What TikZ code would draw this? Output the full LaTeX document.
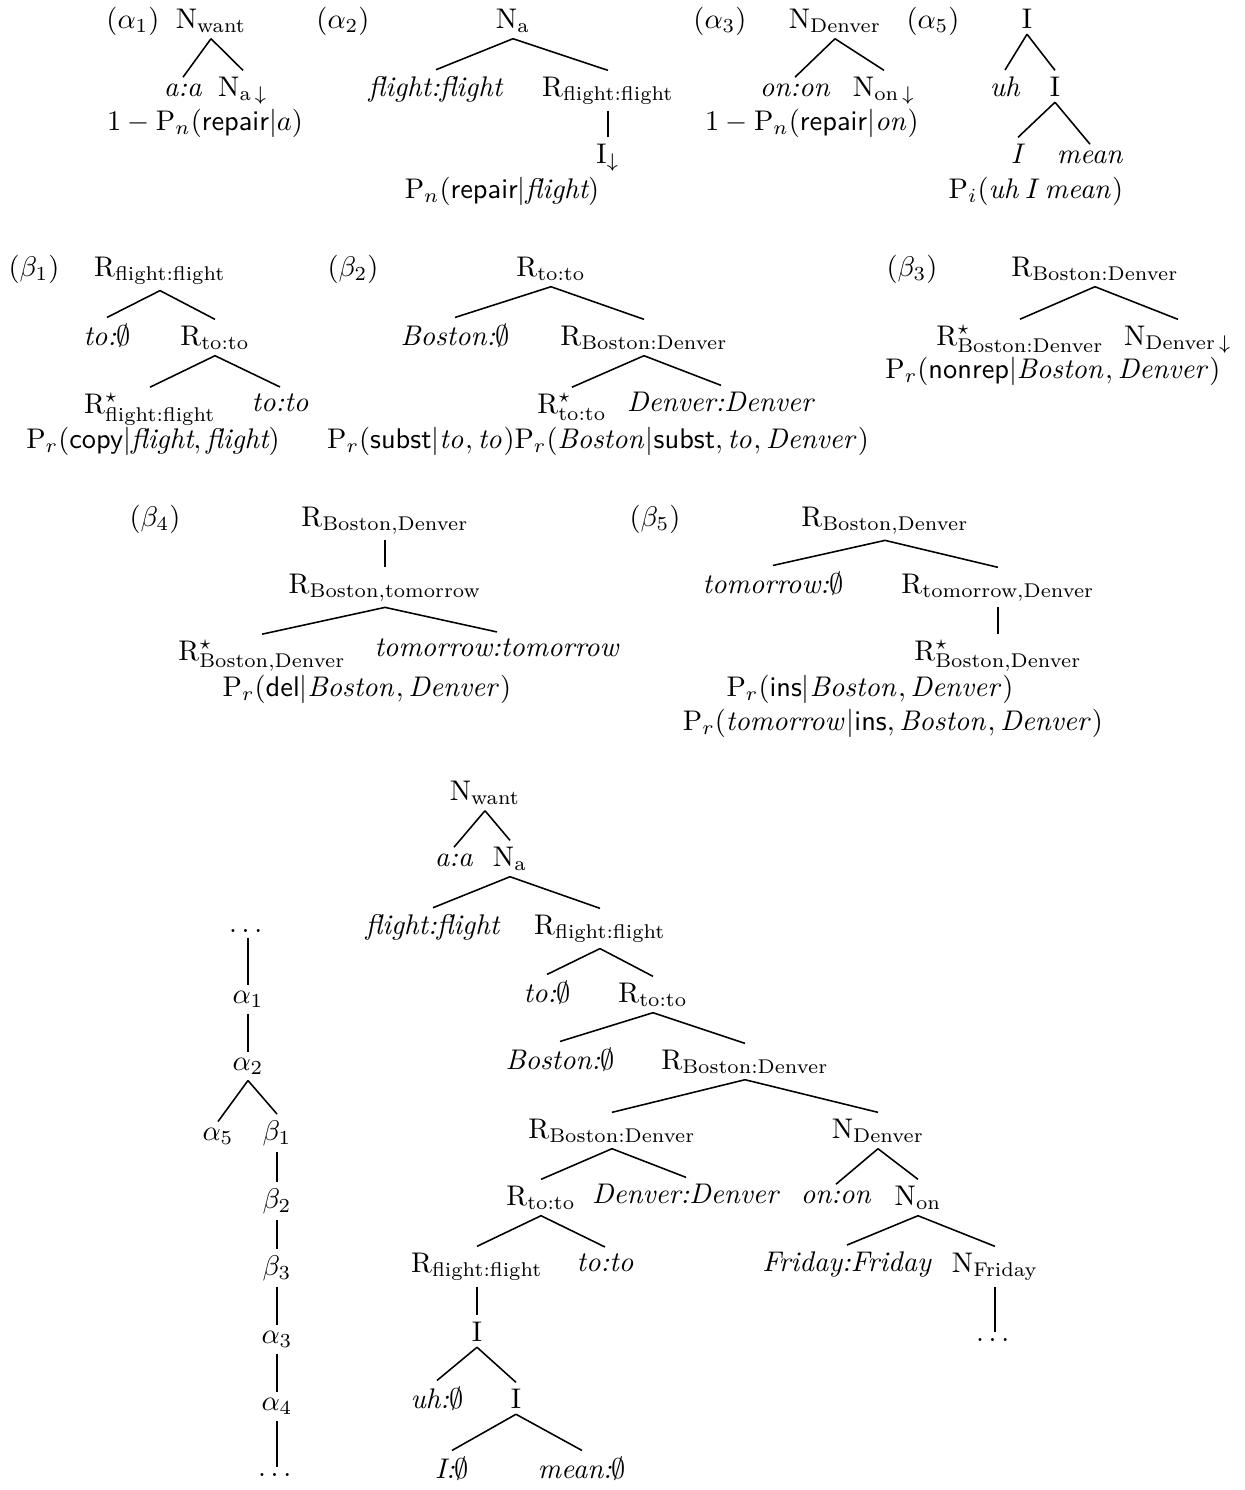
\documentclass[tikz,border=0pt]{standalone}
\usepackage{amsmath}
\usepackage{amssymb}
\usepackage{tikz}

\newcommand{\subR}[1]{\ensuremath{\mathrm{R}_{\text{#1}}}}
\newcommand{\subN}[1]{\ensuremath{\mathrm{N}_{\text{#1}}}}
\newcommand{\starR}[1]{\ensuremath{\mathrm{R}^{\star}_{\text{#1}}}}
\newcommand{\downN}[1]{\ensuremath{\mathrm{N}_{\text{#1}\,\downarrow}}}

\begin{document}
\begin{tikzpicture}[x=0.352pt,y=-0.352pt,
    tn/.style={anchor=base,inner sep=2pt},
    lbl/.style={anchor=base,inner sep=2pt},
    br/.style={line width=0.55pt}]
    \useasboundingbox (0,0) rectangle (1244,1490);

    % alpha_1
    \node[lbl] (la1) at (133,28) {$(\alpha_1)$};
    \node[tn] (a1r) at (211,28) {\subN{want}};
    \node[tn] (a1a) at (183,96) {\textit{a:a}};
    \node[tn] (a1b) at (243,96) {\downN{a}};
    \node[tn] (a1p) at (205,130) {$1-\mathrm{P}_n(\textsf{repair}|a)$};
    \draw[br] (a1r.south) -- (a1a.north) (a1r.south) -- (a1b.north);

    % alpha_2
    \node[lbl] (la2) at (343,28) {$(\alpha_2)$};
    \node[tn] (a2r) at (513,28) {\subN{a}};
    \node[tn] (a2a) at (436,96) {\textit{flight:flight}};
    \node[tn] (a2b) at (608,96) {\subR{flight:flight}};
    \node[tn] (a2c) at (608,163) {$\mathrm{I}_{\downarrow}$};
    \node[tn] (a2p) at (502,198) {$\mathrm{P}_n(\textsf{repair}|\textit{flight})$};
    \draw[br] (a2r.south) -- (a2a.north) (a2r.south) -- (a2b.north);
    \draw[br] (a2b.south) -- (a2c.north);

    % alpha_3
    \node[lbl] (la3) at (720,28) {$(\alpha_3)$};
    \node[tn] (a3r) at (835,28) {\subN{Denver}};
    \node[tn] (a3a) at (795,96) {\textit{on:on}};
    \node[tn] (a3b) at (884,96) {\downN{on}};
    \node[tn] (a3p) at (812,130) {$1-\mathrm{P}_n(\textsf{repair}|\mathit{on})$};
    \draw[br] (a3r.south) -- (a3a.north) (a3r.south) -- (a3b.north);

    % alpha_5
    \node[lbl] (la5) at (933,28) {$(\alpha_5)$};
    \node[tn] (a5r) at (1027,28) {I};
    \node[tn] (a5a) at (1005,96) {\textit{uh}};
    \node[tn] (a5b) at (1055,96) {I};
    \node[tn] (a5c) at (1018,163) {\textit{I}};
    \node[tn] (a5d) at (1090,163) {\textit{mean}};
    \node[tn] (a5p) at (1036,198) {$\mathrm{P}_i(\mathit{uh}\,I\,\mathit{mean})$};
    \draw[br] (a5r.south) -- (a5a.north) (a5r.south) -- (a5b.north);
    \draw[br] (a5b.south) -- (a5c.north) (a5b.south) -- (a5d.north);

    % beta_1
    \node[lbl] (lb1) at (34,276) {$(\beta_1)$};
    \node[tn] (b1r) at (160,276) {\subR{flight:flight}};
    \node[tn] (b1a) at (107,345) {\textit{to:}$\emptyset$};
    \node[tn] (b1b) at (215,345) {\subR{to:to}};
    \node[tn] (b1c) at (150,413) {\starR{flight:flight}};
    \node[tn] (b1d) at (280,411) {\textit{to:to}};
    \node[tn] (b1p) at (153,448) {$\mathrm{P}_r(\textsf{copy}|\textit{flight},\textit{flight})$};
    \draw[br] (b1r.south) -- (b1a.north) (b1r.south) -- (b1b.north);
    \draw[br] (b1b.south) -- (b1c.north) (b1b.south) -- (b1d.north);

    % beta_2
    \node[lbl] (lb2) at (353,276) {$(\beta_2)$};
    \node[tn] (b2r) at (551,276) {\subR{to:to}};
    \node[tn] (b2a) at (455,345) {\textit{Boston:}$\emptyset$};
    \node[tn] (b2b) at (644,345) {\subR{Boston:Denver}};
    \node[tn] (b2c) at (572,413) {\starR{to:to}};
    \node[tn] (b2d) at (721,411) {\textit{Denver:Denver}};
    \node[tn] (b2p) at (598,448) {$\mathrm{P}_r(\textsf{subst}|\mathit{to},\mathit{to})\mathrm{P}_r(\mathit{Boston}|\textsf{subst},\mathit{to},\mathit{Denver})$};
    \draw[br] (b2r.south) -- (b2a.north) (b2r.south) -- (b2b.north);
    \draw[br] (b2b.south) -- (b2c.north) (b2b.south) -- (b2d.north);

    % beta_3
    \node[lbl] (lb3) at (912,276) {$(\beta_3)$};
    \node[tn] (b3r) at (1095,276) {\subR{Boston:Denver}};
    \node[tn] (b3a) at (1020,345) {\starR{Boston:Denver}};
    \node[tn] (b3b) at (1178,345) {\downN{Denver}};
    \node[tn] (b3p) at (1053,378) {$\mathrm{P}_r(\textsf{nonrep}|\mathit{Boston},\mathit{Denver})$};
    \draw[br] (b3r.south) -- (b3a.north) (b3r.south) -- (b3b.north);

    % beta_4
    \node[lbl] (lb4) at (155,526) {$(\beta_4)$};
    \node[tn] (b4r) at (385,526) {\subR{Boston,Denver}};
    \node[tn] (b4a) at (385,593) {\subR{Boston,tomorrow}};
    \node[tn] (b4b) at (262,660) {\starR{Boston,Denver}};
    \node[tn] (b4c) at (497,656) {\textit{tomorrow:tomorrow}};
    \node[tn] (b4p) at (367,696) {$\mathrm{P}_r(\textsf{del}|\mathit{Boston},\mathit{Denver})$};
    \draw[br] (b4r.south) -- (b4a.north);
    \draw[br] (b4a.south) -- (b4b.north) (b4a.south) -- (b4c.north);

    % beta_5
    \node[lbl] (lb5) at (655,526) {$(\beta_5)$};
    \node[tn] (b5r) at (885,526) {\subR{Boston,Denver}};
    \node[tn] (b5a) at (773,593) {\textit{tomorrow:}$\emptyset$};
    \node[tn] (b5b) at (998,593) {\subR{tomorrow,Denver}};
    \node[tn] (b5c) at (998,660) {\starR{Boston,Denver}};
    \node[tn] (b5p) at (870,696) {$\mathrm{P}_r(\textsf{ins}|\mathit{Boston},\mathit{Denver})$};
    \node[tn] (b5q) at (893,730) {$\mathrm{P}_r(\mathit{tomorrow}|\textsf{ins},\mathit{Boston},\mathit{Denver})$};
    \draw[br] (b5r.south) -- (b5a.north) (b5r.south) -- (b5b.north);
    \draw[br] (b5b.south) -- (b5c.north);

    % derivation tree
    \node[tn] (d0) at (248,932) {$\dots$};
    \node[tn] (d1) at (248,1003) {$\alpha_1$};
    \node[tn] (d2) at (248,1070) {$\alpha_2$};
    \node[tn] (d3) at (218,1140) {$\alpha_5$};
    \node[tn] (d4) at (277,1140) {$\beta_1$};
    \node[tn] (d5) at (277,1208) {$\beta_2$};
    \node[tn] (d6) at (277,1275) {$\beta_3$};
    \node[tn] (d7) at (277,1343) {$\alpha_3$};
    \node[tn] (d8) at (277,1410) {$\alpha_4$};
    \node[tn] (d9) at (277,1476) {$\dots$};
    \draw[br] (d0.south) -- (d1.north);
    \draw[br] (d1.south) -- (d2.north);
    \draw[br] (d2.south) -- (d3.north) (d2.south) -- (d4.north);
    \draw[br] (d4.south) -- (d5.north);
    \draw[br] (d5.south) -- (d6.north);
    \draw[br] (d6.south) -- (d7.north);
    \draw[br] (d7.south) -- (d8.north);
    \draw[br] (d8.south) -- (d9.north);

    % derived tree
    \node[tn] (t0) at (485,800) {\subN{want}};
    \node[tn] (t1) at (454,866) {\textit{a:a}};
    \node[tn] (t2) at (510,866) {\subN{a}};
    \node[tn] (t3) at (433,934) {\textit{flight:flight}};
    \node[tn] (t4) at (600,934) {\subR{flight:flight}};
    \node[tn] (t5) at (547,1002) {\textit{to:}$\emptyset$};
    \node[tn] (t6) at (653,1002) {\subR{to:to}};
    \node[tn] (t7) at (560,1069) {\textit{Boston:}$\emptyset$};
    \node[tn] (t8) at (745,1069) {\subR{Boston:Denver}};
    \node[tn] (t9) at (612,1138) {\subR{Boston:Denver}};
    \node[tn] (t10) at (878,1138) {\subN{Denver}};
    \node[tn] (t11) at (541,1205) {\subR{to:to}};
    \node[tn] (t12) at (686,1203) {\textit{Denver:Denver}};
    \node[tn] (t13) at (836,1203) {\textit{on:on}};
    \node[tn] (t14) at (918,1205) {\subN{on}};
    \node[tn] (t15) at (477,1272) {\subR{flight:flight}};
    \node[tn] (t16) at (605,1271) {\textit{to:to}};
    \node[tn] (t17) at (847,1271) {\textit{Friday:Friday}};
    \node[tn] (t18) at (995,1272) {\subN{Friday}};
    \node[tn] (t19) at (477,1341) {I};
    \node[tn] (t20) at (995,1341) {$\dots$};
    \node[tn] (t21) at (437,1408) {\textit{uh:}$\emptyset$};
    \node[tn] (t22) at (516,1408) {I};
    \node[tn] (t23) at (452,1478) {\textit{I:}$\emptyset$};
    \node[tn] (t24) at (582,1478) {\textit{mean:}$\emptyset$};
    \draw[br] (t0.south) -- (t1.north) (t0.south) -- (t2.north);
    \draw[br] (t2.south) -- (t3.north) (t2.south) -- (t4.north);
    \draw[br] (t4.south) -- (t5.north) (t4.south) -- (t6.north);
    \draw[br] (t6.south) -- (t7.north) (t6.south) -- (t8.north);
    \draw[br] (t8.south) -- (t9.north) (t8.south) -- (t10.north);
    \draw[br] (t9.south) -- (t11.north) (t9.south) -- (t12.north);
    \draw[br] (t10.south) -- (t13.north) (t10.south) -- (t14.north);
    \draw[br] (t11.south) -- (t15.north) (t11.south) -- (t16.north);
    \draw[br] (t14.south) -- (t17.north) (t14.south) -- (t18.north);
    \draw[br] (t15.south) -- (t19.north);
    \draw[br] (t18.south) -- (t20.north);
    \draw[br] (t19.south) -- (t21.north) (t19.south) -- (t22.north);
    \draw[br] (t22.south) -- (t23.north) (t22.south) -- (t24.north);
\end{tikzpicture}
\end{document}
